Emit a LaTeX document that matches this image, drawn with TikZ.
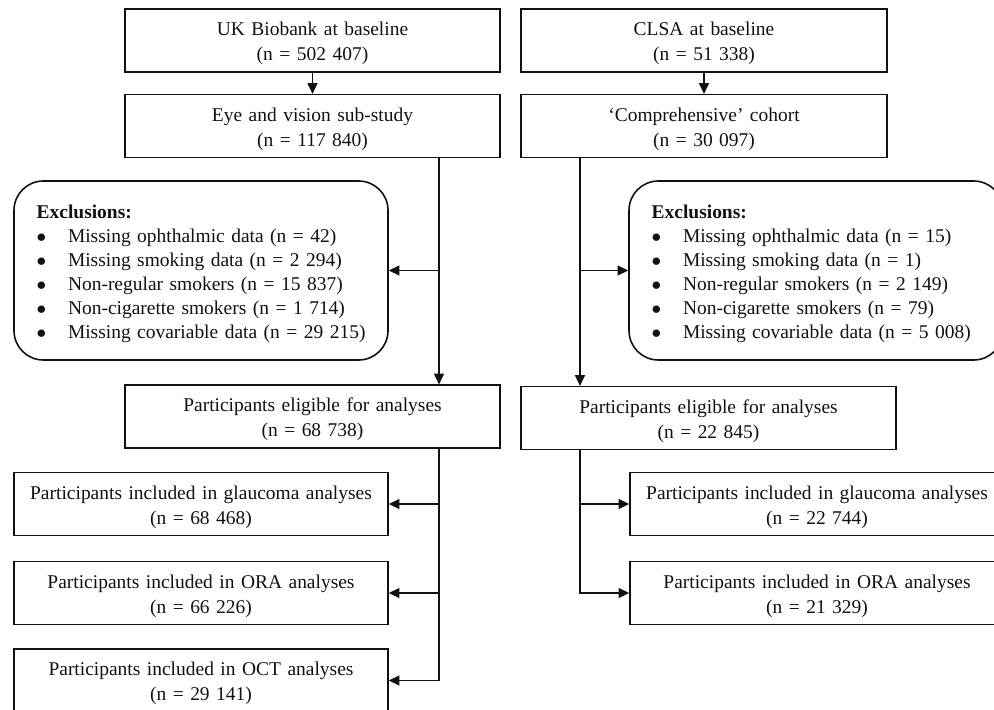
\documentclass[tikz,border=0pt]{standalone}
\usepackage{fontspec}
\setmainfont{Liberation Serif}
\usepackage{tikz}
\usetikzlibrary{arrows.meta,positioning,calc}
\definecolor{ink}{HTML}{111111}
\newcommand{\boxfont}{\fontsize{14.6}{18.8}\selectfont\spaceskip=0.22em\relax}
\newcommand{\exfont}{\fontsize{14.6}{18}\selectfont\spaceskip=0.22em\relax}
\newcommand{\boxstrut}{\rule{0pt}{15pt}}
\newcommand{\exitem}[1]{\mbox{\makebox[23.5pt][l]{$\bullet$}#1}}
\tikzset{
  box/.style={draw=ink,line width=1.2pt,minimum width=281.25pt,minimum height=47pt,text width=270pt,align=center,inner sep=0pt,font=\boxfont,text=ink,execute at begin node=\boxstrut},
  exclbox/.style={box,font=\exfont,rounded corners=22pt,minimum width=280.5pt,minimum height=134.25pt,align=left,text width=246.5pt,inner xsep=17pt},
  arr/.style={-{Triangle[length=8pt,width=7.5pt]},line width=0.9pt,draw=ink}
}
\begin{document}
\begin{tikzpicture}[x=0.75pt,y=-0.75pt]
\useasboundingbox (0,0) rectangle (994,709);
% cohorts at baseline
\node[box] (ukb) at (312.5,40.5) {UK Biobank at baseline\\(n = 502 407)};
\node[box] (eye) at (312.5,126) {Eye and vision sub-study\\(n = 117 840)};
\node[box,minimum width=274.5pt] (clsa) at (704,40.5) {CLSA at baseline\\(n = 51 338)};
\node[box,minimum width=274.5pt] (comp) at (704,126) {`Comprehensive' cohort\\(n = 30 097)};
% exclusions
\node[exclbox] (exclU) at (201,270.5) {\textbf{Exclusions:}\\
  \exitem{Missing ophthalmic data (n = 42)}\\
  \exitem{Missing smoking data (n = 2 294)}\\
  \exitem{Non-regular smokers (n = 15 837)}\\
  \exitem{Non-cigarette smokers (n = 1 714)}\\
  \exitem{Missing covariable data (n = 29 215)}};
\node[exclbox] (exclC) at (816,270.5) {\textbf{Exclusions:}\\
  \exitem{Missing ophthalmic data (n = 15)}\\
  \exitem{Missing smoking data (n = 1)}\\
  \exitem{Non-regular smokers (n = 2 149)}\\
  \exitem{Non-cigarette smokers (n = 79)}\\
  \exitem{Missing covariable data (n = 5 008)}};
% eligible
\node[box] (eligU) at (312.5,416.5) {Participants eligible for analyses\\(n = 68 738)};
\node[box] (eligC) at (708.5,418) {Participants eligible for analyses\\(n = 22 845)};
% analyses
\node[box,minimum width=280.5pt] (glauU) at (201,504) {Participants included in glaucoma analyses\\(n = 68 468)};
\node[box,minimum width=280.5pt] (oraU) at (201,593) {Participants included in ORA analyses\\(n = 66 226)};
\node[box,minimum width=280.5pt] (octU) at (201,680.5) {Participants included in OCT analyses\\(n = 29 141)};
\node[box,minimum width=280.5pt] (glauC) at (817,504) {Participants included in glaucoma analyses\\(n = 22 744)};
\node[box,minimum width=280.5pt] (oraC) at (817,593) {Participants included in ORA analyses\\(n = 21 329)};
\coordinate (trunkU) at (439,0);
\coordinate (trunkC) at (580,0);
% connectors
\draw[arr] (ukb) -- (eye);
\draw[arr] (clsa) -- (comp);
\draw[arr] (trunkU |- eye.south) -- (trunkU |- eligU.north);
\draw[arr] (trunkU |- exclU.east) -- (exclU.east);
\draw[arr] (trunkC |- comp.south) -- (trunkC |- eligC.north);
\draw[arr] (trunkC |- exclC.west) -- (exclC.west);
\draw[arr] (trunkU |- eligU.south) |- (octU.east);
\draw[arr] (trunkU |- glauU.east) -- (glauU.east);
\draw[arr] (trunkU |- oraU.east) -- (oraU.east);
\draw[arr] (trunkC |- eligC.south) |- (oraC.west);
\draw[arr] (trunkC |- glauC.west) -- (glauC.west);
\end{tikzpicture}
\end{document}
